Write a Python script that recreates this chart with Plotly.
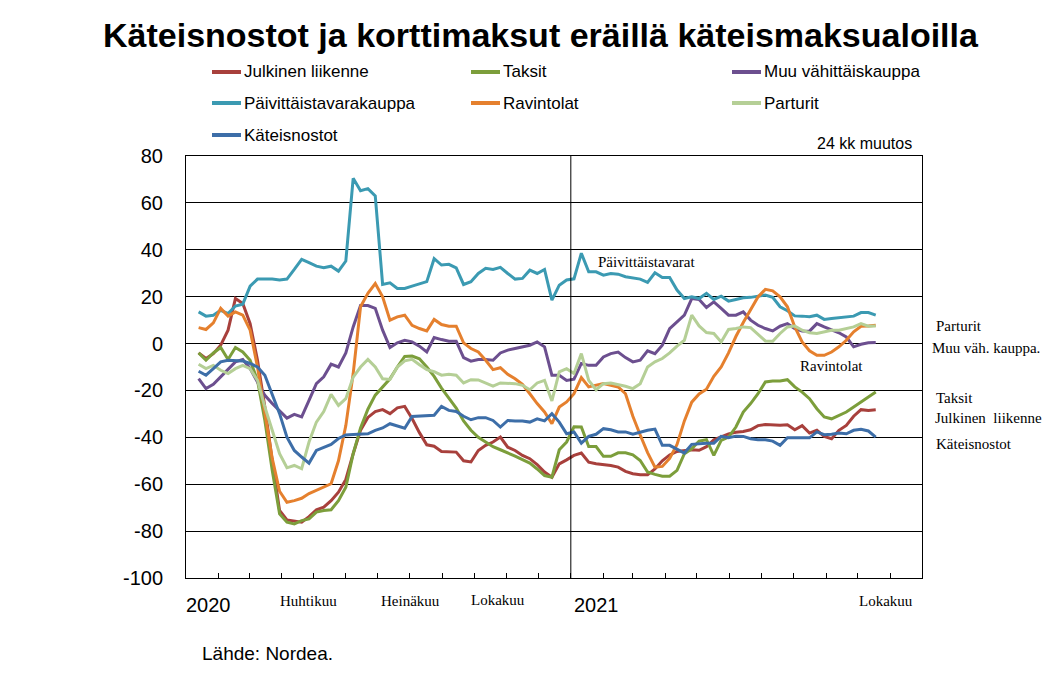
import pandas as pd
import plotly.graph_objects as go

# ---------------- data (weekly, 24-month change, %) ----------------
start_date = "2020-01-13"
n_weeks = 93
dates = pd.date_range(start_date, periods=n_weeks, freq="7D")

julkinen = [-4.0, -6.4, -4.3, -0.7, 5.7, 19.2, 17.1, 8.5, -7.1, -27.1,
            -49.9, -71.2, -75.2, -75.8, -76.2, -73.8, -70.9, -69.8, -67.0, -63.4,
            -58.0, -47.0, -37.0, -31.5, -29.0, -28.2, -29.9, -27.4, -26.8, -32.0,
            -38.0, -43.2, -43.8, -46.0, -46.0, -46.3, -50.0, -50.5, -45.6, -43.4,
            -42.0, -39.9, -44.2, -45.6, -47.7, -49.1, -51.6, -54.8, -57.0, -51.3,
            -49.6, -47.7, -46.7, -50.6, -51.3, -51.6, -52.0, -52.7, -54.5, -55.5,
            -56.0, -56.0, -53.5, -50.0, -47.5, -46.0, -45.5, -45.3, -45.5, -44.0,
            -41.0, -39.6, -38.5, -37.8, -37.5, -36.8, -35.0, -34.5, -34.8, -34.8,
            -34.6, -36.8, -35.0, -38.2, -37.0, -39.6, -40.6, -37.0, -34.9, -31.0,
            -28.2, -28.5, -28.2]

taksit = [-4.0, -7.1, -4.0, -1.7, -6.8, -1.7, -3.6, -7.1, -15.7, -32.8,
          -54.1, -72.6, -76.2, -76.9, -75.5, -74.8, -71.9, -71.2, -70.9, -67.0,
          -61.3, -47.0, -36.0, -28.0, -22.0, -18.5, -15.0, -10.0, -5.5, -5.3,
          -6.5, -10.0, -14.0, -19.0, -23.0, -27.5, -33.0, -37.0, -40.0, -42.0,
          -44.0, -45.3, -46.5, -48.0, -49.5, -51.0, -53.5, -56.3, -57.0, -45.3,
          -42.0, -35.5, -35.6, -43.9, -43.9, -48.1, -48.1, -46.6, -46.6, -47.5,
          -49.9, -54.8, -55.8, -56.6, -56.6, -54.1, -47.0, -44.9, -41.6, -41.0,
          -47.7, -41.3, -39.9, -35.6, -29.2, -25.6, -21.4, -16.4, -16.0, -16.0,
          -15.4, -18.5, -20.7, -23.5, -27.8, -31.3, -32.1, -30.6, -29.2, -27.1,
          -24.9, -22.8, -20.7]

muu_vahittais = [-15.0, -19.2, -17.4, -14.2, -11.1, -7.8, -6.8, -10.7, -16.4, -22.1,
                 -25.6, -28.5, -31.8, -30.2, -31.3, -24.2, -17.1, -14.2, -8.8, -10.0,
                 -4.0, 7.1, 16.2, 16.2, 15.0, 5.7, -1.7, 0.3, 1.4, 0.7,
                 -1.1, -3.6, 2.6, 1.7, 1.0, 1.0, -6.0, -7.5, -6.8, -6.8,
                 -7.1, -4.0, -2.8, -2.1, -1.4, -0.7, 0.7, -1.4, -13.5, -13.5,
                 -15.7, -15.2, -8.5, -9.3, -9.3, -5.7, -4.3, -3.6, -6.0, -7.8,
                 -7.1, -3.1, -4.3, -0.7, 6.4, 9.3, 12.1, 19.2, 18.8, 15.4,
                 17.8, 15.0, 12.1, 12.1, 13.5, 10.0, 7.8, 6.4, 5.4, 7.4,
                 8.5, 6.4, 5.4, 5.3, 8.5, 7.1, 5.7, 4.6, 2.8, -1.4,
                 -0.3, 0.3, 0.4]

paivittaistavara = [13.5, 11.7, 12.1, 14.2, 12.8, 16.0, 16.8, 24.5, 27.5, 27.5,
                    27.5, 27.1, 27.5, 31.6, 35.9, 34.5, 33.0, 32.3, 33.0, 30.9,
                    35.2, 70.5, 65.2, 66.1, 63.0, 25.2, 25.9, 23.5, 23.5, 24.5,
                    25.4, 26.4, 36.2, 33.5, 33.8, 32.3, 25.2, 26.4, 29.9, 32.1,
                    31.6, 32.5, 29.9, 27.5, 27.8, 31.3, 29.9, 31.6, 18.5, 24.9,
                    27.1, 27.6, 38.5, 30.6, 30.6, 29.2, 29.9, 29.6, 28.5, 28.1,
                    27.5, 26.1, 30.2, 28.2, 28.2, 22.8, 19.2, 19.9, 19.2, 21.4,
                    18.8, 20.2, 18.1, 18.8, 19.5, 19.7, 20.2, 20.7, 19.7, 15.7,
                    14.0, 11.8, 11.7, 11.4, 12.1, 10.3, 10.7, 11.1, 11.4, 11.7,
                    13.2, 13.2, 12.1]

ravintolat = [6.8, 6.0, 8.8, 15.0, 11.7, 13.5, 12.1, 5.7, -10.0, -30.0,
              -49.0, -63.0, -67.7, -67.0, -66.0, -64.0, -62.5, -61.0, -59.8, -50.0,
              -35.0, -12.8, 15.7, 21.4, 25.6, 19.9, 10.0, 11.4, 12.1, 7.8,
              6.4, 5.4, 10.3, 8.1, 7.4, 7.4, 0.3, -2.1, -3.6, -7.1,
              -11.1, -10.3, -13.1, -15.0, -17.4, -21.4, -25.6, -29.2, -34.2, -27.1,
              -24.9, -21.4, -14.5, -18.5, -17.8, -17.1, -17.8, -18.5, -21.4, -31.0,
              -39.0, -46.5, -52.7, -52.4, -49.0, -43.0, -33.0, -25.0, -21.5, -19.5,
              -14.0, -10.0, -4.0, 3.0, 9.0, 14.2, 19.9, 23.1, 22.5, 19.9,
              15.7, 7.1, 0.7, -3.1, -5.0, -5.0, -3.6, -1.4, 1.4, 5.0,
              7.4, 7.5, 7.8]

parturit = [-8.8, -10.7, -9.3, -11.4, -12.8, -10.7, -9.3, -10.7, -15.7, -27.0,
            -37.0, -47.0, -53.0, -52.0, -53.4, -42.0, -33.5, -29.0, -21.7, -26.4,
            -23.5, -14.3, -10.0, -6.8, -10.0, -15.0, -15.3, -10.0, -7.4, -6.7,
            -9.0, -11.1, -12.0, -13.5, -13.1, -13.5, -16.8, -15.4, -15.5, -16.8,
            -18.2, -16.8, -17.1, -17.1, -17.8, -19.7, -16.8, -15.7, -24.5, -12.1,
            -10.7, -12.8, -4.3, -15.7, -19.7, -17.1, -16.8, -17.4, -18.2, -19.2,
            -17.1, -10.0, -7.8, -6.4, -4.0, -1.1, 1.4, 12.1, 7.5, 4.7,
            4.3, 0.7, 6.0, 6.4, 7.1, 6.8, 4.0, 1.1, 1.0, 4.3,
            7.1, 7.5, 5.7, 4.6, 4.3, 5.0, 5.7, 5.7, 6.4, 7.1,
            8.5, 7.4, 7.5]

kateisnostot = [-11.8, -13.5, -10.7, -7.8, -7.1, -7.1, -7.4, -8.5, -10.0, -13.5,
                -21.4, -29.9, -39.9, -45.6, -48.4, -51.0, -45.6, -44.4, -43.0, -40.5,
                -39.0, -38.8, -38.8, -38.5, -37.0, -36.0, -34.2, -35.0, -36.1, -31.1,
                -31.0, -30.8, -30.6, -26.8, -28.5, -29.0, -31.0, -32.5, -31.6, -31.6,
                -32.8, -35.6, -32.8, -33.0, -33.0, -33.5, -32.1, -33.0, -29.9, -33.5,
                -38.5, -37.7, -42.5, -39.6, -38.7, -36.3, -36.8, -37.7, -37.7, -38.7,
                -37.7, -37.0, -36.5, -43.4, -43.4, -44.9, -46.7, -43.0, -42.7, -42.5,
                -42.5, -39.6, -40.2, -39.5, -39.6, -40.6, -41.0, -41.0, -41.6, -43.4,
                -40.2, -40.2, -39.9, -40.2, -37.7, -38.9, -38.7, -38.2, -38.5, -37.0,
                -36.6, -37.3, -39.9]

series_names = ["Julkinen liikenne", "Taksit", "Muu vähittäiskauppa",
                "Päivittäistavarakauppa", "Ravintolat", "Parturit", "Käteisnostot"]
series_values = [julkinen, taksit, muu_vahittais, paivittaistavara,
                 ravintolat, parturit, kateisnostot]
series_colors = ["#A8403C", "#7C9E3B", "#6C4F8F", "#3B9AB2",
                 "#E5802E", "#B5CF96", "#3D6EA8"]

y_ticks = [80, 60, 40, 20, 0, -20, -40, -60, -80, -100]

# ---------------- geometry (screen pixels of the reference) ----------------
# the page body adds an 8 px offset, so the figure is made 8 px smaller
OFF = 8
W, H = 1056 - OFF, 690 - OFF
L, R, T, B = 186, 922, 156, 578   # plot area in screen pixels


def px(x):
    return (x - L) / (R - L)


def py(y):
    return (B - y) / (B - T)


fig = go.Figure()
for name, vals, col in zip(series_names, series_values, series_colors):
    fig.add_trace(go.Scatter(x=dates, y=vals, mode="lines", name=name,
                             line=dict(color=col, width=3), showlegend=False))

sans = "Liberation Sans, Arial, sans-serif"
serif = "Liberation Serif, Times New Roman, serif"

fig.update_layout(
    width=W, height=H,
    margin=dict(l=L - OFF, r=1056 - R, t=T - OFF, b=690 - B, pad=0),
    paper_bgcolor="white", plot_bgcolor="white",
    font=dict(family=sans, color="black"),
)
fig.update_xaxes(
    type="date", range=["2020-01-01", "2021-12-01"],
    showgrid=False, zeroline=False,
    showline=True, linecolor="black", linewidth=1, mirror=True,
    ticks="inside", ticklen=5, tickcolor="black", tickwidth=1,
    dtick="M1", tick0="2020-01-01", showticklabels=False,
)
fig.update_yaxes(
    range=[-100, 80], tickvals=y_ticks, ticktext=[str(v) for v in y_ticks],
    showgrid=True, gridcolor="black", gridwidth=1, zeroline=False,
    showline=True, linecolor="black", linewidth=1, mirror=True,
    ticks="", tickfont=dict(family=sans, size=20, color="black"),
    ticklabelstandoff=18,
)
fig.add_vline(x="2021-01-01", line=dict(color="black", width=1))

ann = []
# title
ann.append(dict(text="<b>Käteisnostot ja korttimaksut eräillä käteismaksualoilla</b>",
                x=px(541), y=py(35), xref="paper", yref="paper", showarrow=False,
                xanchor="center", yanchor="middle",
                font=dict(family=sans, size=34, color="black")))

# manual legend (3 columns)
legend_pos = [(212, 72), (471, 72), (732, 72),
              (212, 103), (471, 103), (732, 103),
              (212, 135)]
shapes = []
for (lx, ly), name, col in zip(legend_pos, series_names, series_colors):
    shapes.append(dict(type="line", xref="paper", yref="paper",
                       x0=px(lx), x1=px(lx + 29), y0=py(ly), y1=py(ly),
                       line=dict(color=col, width=4)))
    ann.append(dict(text=name, x=px(lx + 30), y=py(ly), xref="paper", yref="paper",
                    showarrow=False, xanchor="left", yanchor="middle",
                    font=dict(family=sans, size=17, color="black")))

ann.append(dict(text="24 kk muutos", x=px(914), y=py(143), xref="paper", yref="paper",
                showarrow=False, xanchor="right", yanchor="middle",
                font=dict(family=sans, size=16, color="black")))

# series labels
labels = [("Päivittäistavarat", 596, 262), ("Ravintolat", 798, 366),
          ("Parturit", 934, 326), ("Muu väh. kauppa.", 930, 348),
          ("Taksit", 934, 398), ("Julkinen  liikenne", 933, 418),
          ("Käteisnostot", 934, 444)]
for t, lx, ly in labels:
    ann.append(dict(text=t.replace("  ", "&nbsp; "), x=px(lx), y=py(ly), xref="paper", yref="paper",
                    showarrow=False, xanchor="left", yanchor="middle",
                    font=dict(family=serif, size=15, color="black")))

# x-axis labels
for t, cx, cy in [("2020", 208, 605), ("2021", 596, 605)]:
    ann.append(dict(text=t, x=px(cx), y=py(cy), xref="paper", yref="paper",
                    showarrow=False, xanchor="center", yanchor="middle",
                    font=dict(family=sans, size=20, color="black")))
for t, cx, cy in [("Huhtikuu", 308, 601), ("Heinäkuu", 410, 601),
                  ("Lokakuu", 498, 600), ("Lokakuu", 886, 601)]:
    ann.append(dict(text=t, x=px(cx), y=py(cy), xref="paper", yref="paper",
                    showarrow=False, xanchor="center", yanchor="middle",
                    font=dict(family=serif, size=15, color="black")))

ann.append(dict(text="Lähde: Nordea.", x=px(200), y=py(653), xref="paper", yref="paper",
                showarrow=False, xanchor="left", yanchor="middle",
                font=dict(family=sans, size=19, color="black")))

fig.update_layout(annotations=ann, shapes=fig.layout.shapes + tuple(shapes))
fig.write_html("out.html")
